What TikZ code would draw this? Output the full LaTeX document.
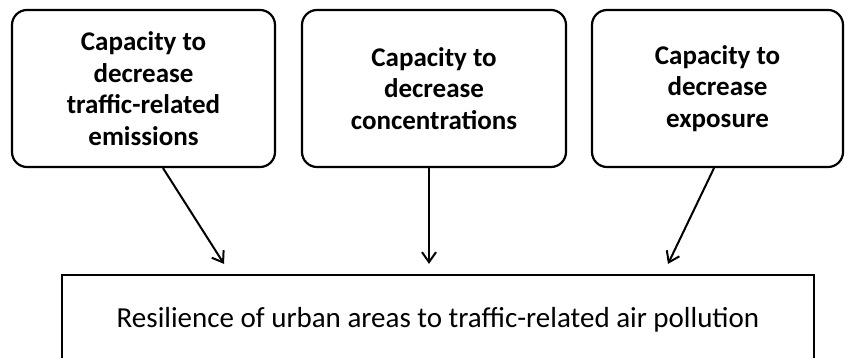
\documentclass[tikz,border=0pt]{standalone}
\usepackage{fontspec}
\setmainfont{Carlito}
\usetikzlibrary{shapes,arrows.meta,calc}
\tikzstyle{capbox} = [rectangle, draw, line width=2.2pt, rounded corners=15pt,
    align=center, font=\fontsize{27}{31.5}\selectfont\bfseries, inner sep=0pt,
    minimum height=157pt]
\tikzstyle{resbox} = [rectangle, draw, line width=2.2pt, inner sep=0pt,
    font=\fontsize{29}{32}\selectfont, minimum width=752pt, minimum height=90pt]
\tikzstyle{line} = [draw, line width=2pt, -{Straight Barb[length=10pt,width=14pt,line width=2pt]}]

\begin{document}
\begin{tikzpicture}[x=1pt, y=1pt, node distance=2cm]
    \useasboundingbox (0,0) rectangle (845,358);
    \clip (0,0) rectangle (845,358);
    % Place nodes
    \node [capbox, minimum width=263pt] at (143.5,269.5) (emis) {Capacity to\\decrease\\traffic-related\\emissions};
    \node [capbox, minimum width=264pt, right of=emis, node distance=290.5pt] (conc) {Capacity to\\decrease\\concentrations};
    \node [capbox, minimum width=251pt, right of=conc, node distance=283.5pt] (expo) {Capacity to\\decrease\\exposure};
    \node [resbox, below of=conc, node distance=231.5pt, xshift=4pt] (res) {Resilience of urban areas to traffic-related air pollution};
    % Draw edges
    \path [line] ([xshift=19.5pt]emis.south) -- ([xshift=-214pt, yshift=10pt]res.north);
    \path [line] ([xshift=-5pt]conc.south) -- ([xshift=-9pt, yshift=10pt]res.north);
    \path [line] ([xshift=-3.5pt]expo.south) -- ([xshift=230pt, yshift=10pt]res.north);
\end{tikzpicture}
\end{document}
